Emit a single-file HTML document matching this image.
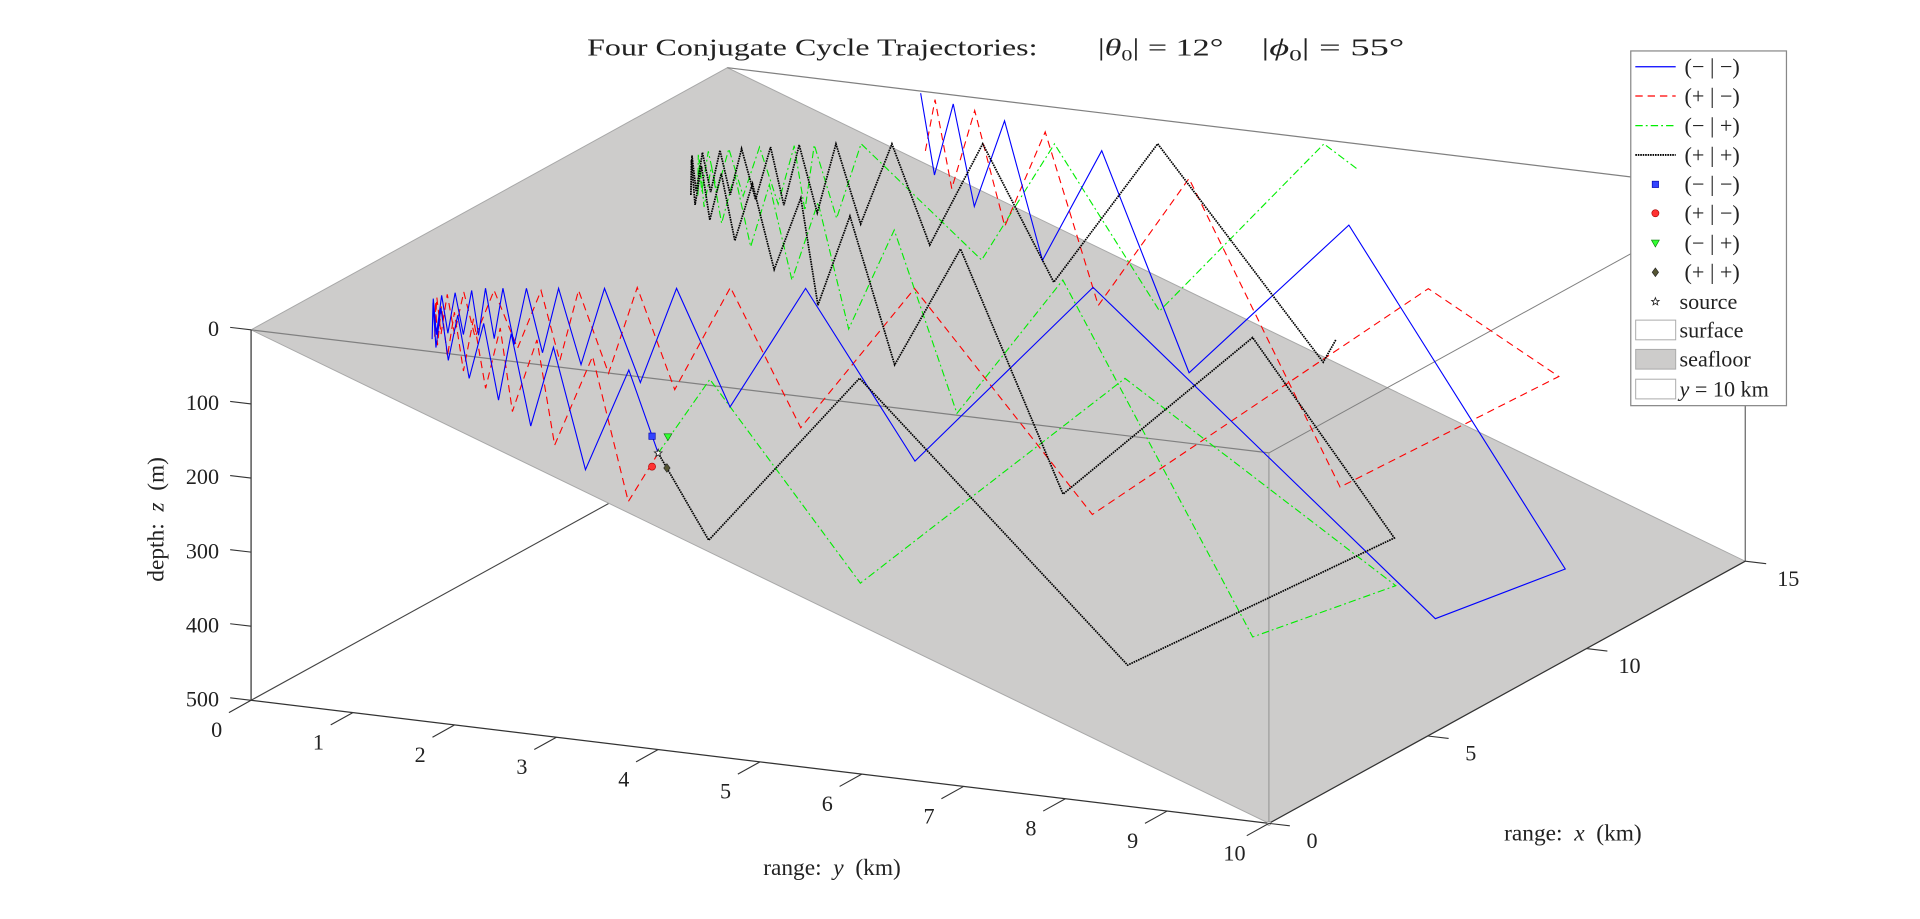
<!DOCTYPE html>
<html><head><meta charset="utf-8">
<style>
html,body{margin:0;padding:0;background:#fff;}
svg{display:block;}
text{font-family:"Liberation Serif","DejaVu Serif",serif;fill:#222;}
</style></head>
<body>
<svg id="chart" width="1920" height="919" viewBox="0 0 1560 746.7" preserveAspectRatio="none" xmlns="http://www.w3.org/2000/svg">
  <g id="back"></g>
  <polygon id="seafloor" fill="#cdcccb" stroke="#a8a8a8" stroke-width="0.8"></polygon>
  <g id="frame"></g>
  <g id="rays"></g>
  <g id="marks"></g>
  <g id="ticks"></g>
  <text x="477" y="45" font-size="20" textLength="366" lengthAdjust="spacingAndGlyphs">Four Conjugate Cycle Trajectories:</text>
  <text x="892" y="45" font-size="20" textLength="102" lengthAdjust="spacingAndGlyphs">|<tspan font-style="italic">θ</tspan><tspan font-size="13" dy="4">0</tspan><tspan dy="-4">| = 12°</tspan></text>
  <text x="1025" y="45" font-size="20" textLength="116" lengthAdjust="spacingAndGlyphs">|<tspan font-style="italic">ϕ</tspan><tspan font-size="13" dy="4">0</tspan><tspan dy="-4">| = 55°</tspan></text>
  <text transform="translate(133,422) rotate(-90)" text-anchor="middle" font-size="19" xml:space="preserve">depth:  <tspan font-style="italic">z</tspan>  (m)</text>
  <text x="676" y="711" text-anchor="middle" font-size="19" xml:space="preserve">range:  <tspan font-style="italic">y</tspan>  (km)</text>
  <text x="1278" y="683" text-anchor="middle" font-size="19" xml:space="preserve">range:  <tspan font-style="italic">x</tspan>  (km)</text>
  <g id="legend">
    <rect x="1325" y="41.4" width="126.5" height="288.2" fill="#fff" stroke="#888" stroke-width="1"></rect>
  </g>
</svg>
<script>
// ---- data (x km, y km, z m) ----
const zTicks=[0,100,200,300,400,500];
const yTicks=[0,1,2,3,4,5,6,7,8,9,10];
const xTicks=[0,5,10,15];
const source=[0,4,100];
const markerX=[0.03,0.03,0.05,0.05];
const markerY=[3.93,3.93,4.08,4.07];
const markerZ=[79,120,78,120];

const blueX=[0,0.26,0.69,0.90,1.21,1.30,1.51,1.62,1.74,1.86,1.98,2.10,2.20,2.30,2.40,2.50,2.60,2.70,2.80,2.90,3.00,3.10,3.19,3.28,3.33,3.38,3.45,3.51,3.60,3.69,3.82,3.95,4.15,4.36,4.73,5.09,5.81,6.77,8.67,12.12,11.14,12.52,13.23,13.80,14.08,14.41,14.58,14.79,14.90];
const blueY=[4,3.63,3.07,2.69,2.37,2.15,1.96,1.78,1.60,1.45,1.32,1.21,1.13,1.07,1.03,1.01,1.01,1.03,1.06,1.10,1.15,1.20,1.24,1.28,1.35,1.42,1.51,1.61,1.74,1.87,2.05,2.24,2.53,2.82,3.23,3.86,4.71,6.16,8.93,9.13,7.31,5.31,4.23,3.47,3.01,2.61,2.35,2.10,1.93];
const blueZ=[100,0,154,0,119,0,98,0,80,0,66,0,57,0,52,0,51,0,53,0,58,0,62,0,68,0,76,0,87,0,103,0,127,0,162,0,236,0,446,457,0,265,0,174,0,130,0,105,0];

const redX=[0,0.34,0.69,0.97,1.15,1.37,1.50,1.68,1.78,1.88,1.98,2.08,2.18,2.28,2.38,2.48,2.58,2.68,2.78,2.88,2.98,3.08,3.23,3.36,3.49,3.60,3.71,3.95,4.18,4.43,4.71,5.13,5.70,6.78,8.61,17.88,11.28,12.42,13.25,13.79,14.28,14.39,14.63,14.68,14.80];
const redY=[4,3.60,3.14,2.68,2.45,2.14,1.98,1.78,1.63,1.50,1.38,1.28,1.19,1.12,1.07,1.03,1.02,1.03,1.06,1.10,1.16,1.24,1.38,1.57,1.76,1.91,2.06,2.28,2.49,2.78,3.24,3.80,4.74,6.15,8.88,7.27,7.18,5.34,4.19,3.50,2.95,2.62,2.32,2.14,2.00];
const redZ=[100,180,0,134,0,107,0,89,0,75,0,64,0,56,0,52,0,52,0,55,0,62,0,78,0,95,0,114,0,139,0,190,0,307,0,364,359,0,210,0,148,0,116,0,80];

const greenX=[0,0.28,1.27,2.68,9.09,5.42,6.94,7.87,8.33,8.85,9.20,9.50,9.75,9.90,10.04,10.17,10.30,10.42,10.53,10.64,10.75,10.86,10.97,11.08,11.20,11.33,11.46,11.60,11.72,11.80,11.87,12.03,12.19,12.91,13.28,13.96,14.81,15.0];
const greenY=[4,4.42,5.59,7.75,8.41,8.15,5.81,4.48,3.72,3.11,2.70,2.35,2.05,1.82,1.62,1.45,1.31,1.20,1.12,1.07,1.04,1.04,1.07,1.12,1.20,1.30,1.42,1.56,1.68,1.76,1.83,2.00,2.19,3.15,3.75,4.57,5.92,6.20];
const greenZ=[100,0,279,0,420,407,0,224,0,156,0,118,0,91,0,72,0,60,0,53,0,52,0,56,0,65,0,78,0,88,0,100,0,158,0,228,0,35];

const blackX=[0,0.34,1.18,2.73,10.52,5.32,6.98,7.82,8.44,8.73,9.10,9.30,9.55,9.70,9.85,10.00,10.12,10.24,10.36,10.47,10.58,10.68,10.78,10.88,10.98,11.08,11.18,11.28,11.40,11.52,11.65,11.78,11.90,12.04,12.21,12.36,12.59,12.88,13.29,13.87,14.82,15.10];
const blackY=[4,4.39,5.61,7.76,7.95,8.18,5.80,4.53,3.69,3.16,2.73,2.50,2.16,1.90,1.68,1.50,1.35,1.23,1.13,1.06,1.02,1.00,1.01,1.04,1.09,1.15,1.22,1.30,1.40,1.51,1.60,1.71,1.85,1.99,2.18,2.44,2.74,3.17,3.74,4.58,5.91,5.95];
const blackZ=[100,219,0,388,397,0,290,0,185,0,136,0,108,0,84,0,68,0,57,0,51,0,51,0,55,0,61,0,70,0,80,0,92,0,109,0,137,0,187,0,295,270];

// ---- axis functions (projection) ----
const O=[204,268];
const EX=[387/15,-213/15];
const EY=[82.7,10.0];
const EZ=301/500;
function px(x,y,z){return O[0]+EX[0]*x+EY[0]*y;}
function py(x,y,z){return O[1]+EX[1]*x+EY[1]*y+EZ*z;}
const NS='http://www.w3.org/2000/svg';
function mk(tag,attrs,parent){const e=document.createElementNS(NS,tag);for(const k in attrs)e.setAttribute(k,attrs[k]);parent.appendChild(e);return e;}
function P(x,y,z){return px(x,y,z).toFixed(2)+','+py(x,y,z).toFixed(2);}

const back=document.getElementById('back');
let e=mk('line',{x1:px(0,0,500),y1:py(0,0,500),x2:px(15,0,500),y2:py(15,0,500),stroke:'#444','stroke-width':0.9},back);



document.getElementById('seafloor').setAttribute('points',[P(0,0,0),P(15,0,0),P(15,10,500),P(0,10,500)].join(' '));

const frame=document.getElementById('frame');
function seg(a,b,col,w,name){const l=mk('line',{x1:px(...a),y1:py(...a),x2:px(...b),y2:py(...b),stroke:col,'stroke-width':w},frame);

}
seg([0,0,0],[0,10,0],'#808080',1,'surface-front-edge');
seg([15,0,0],[15,10,0],'#808080',1,'surface-back-edge');
seg([0,10,0],[15,10,0],'#808080',0.8,'plane-y10-top-edge');
seg([0,10,0],[0,10,500],'#909090',0.8,'plane-y10-front-edge');
seg([15,10,0],[15,10,500],'#555',0.9,'right-vertical-edge');
seg([0,0,0],[0,0,500],'#333',1,'z-axis-line');
seg([0,0,500],[0,10,500],'#333',1,'y-axis-line');
seg([0,10,500],[15,10,500],'#333',1,'x-axis-line');

const rays=document.getElementById('rays');
function ray(X,Y,Z,col,dash,w,name){
  const pts=X.map((v,i)=>P(X[i],Y[i],Z[i])).join(' ');
  const pl=mk('polyline',{points:pts,fill:'none',stroke:col,'stroke-width':w,'stroke-linejoin':'miter'},rays);
  if(dash)pl.setAttribute('stroke-dasharray',dash);
  
  
}
ray(greenX,greenY,greenZ,'#00ee00','6 2.5 1.5 2.5',0.9,'ray-minus-plus');
ray(redX,redY,redZ,'#ff0000','6 4',0.9,'ray-plus-minus');
ray(blueX,blueY,blueZ,'#0000ff',null,0.9,'ray-minus-minus');
ray(blackX,blackY,blackZ,'#000','1.3 0.7',1.4,'ray-plus-plus');

const marks=document.getElementById('marks');
function marker(kind,x,y,parent,name){
  let m;
  if(kind===0)m=mk('rect',{x:x-2.6,y:y-2.6,width:5.2,height:5.2,fill:'#3344ff',stroke:'#0000aa','stroke-width':0.5},parent);
  else if(kind===1)m=mk('circle',{cx:x,cy:y,r:2.9,fill:'#ff3333',stroke:'#aa0000','stroke-width':0.5},parent);
  else if(kind===2)m=mk('polygon',{points:`${x-3.2},${y-2.6} ${x+3.2},${y-2.6} ${x},${y+3}`,fill:'#33ff33',stroke:'#007700','stroke-width':0.5},parent);
  else if(kind===3)m=mk('polygon',{points:`${x},${y-3.5} ${x+2.6},${y} ${x},${y+3.5} ${x-2.6},${y}`,fill:'#555533',stroke:'#222','stroke-width':0.5},parent);
  else {const r1=3.2,r2=1.4;let s=[];for(let k=0;k<10;k++){const r=k%2?r2:r1,a=-Math.PI/2+k*Math.PI/5;s.push((x+r*Math.cos(a)).toFixed(2)+','+(y+r*Math.sin(a)).toFixed(2));}
    m=mk('polygon',{points:s.join(' '),fill:'#fff',stroke:'#222','stroke-width':0.7},parent);}
  
  
}
const mnames=['marker-minus-minus','marker-plus-minus','marker-minus-plus','marker-plus-plus'];
for(let i=0;i<4;i++)marker(i,px(markerX[i],markerY[i],markerZ[i]),py(markerX[i],markerY[i],markerZ[i]),marks,mnames[i]);
marker(4,px(...source),py(...source),marks,'source-marker');
let c=mk('circle',{cx:px(0,10,500),cy:py(0,10,500),r:1.6,fill:'#ddd',stroke:'#888','stroke-width':0.5},marks);



const tk=document.getElementById('ticks');
function tick(a,dx,dy,lab,lx,ly,anchor,name){
  const X=px(...a),Y=py(...a);
  const l=mk('line',{x1:X,y1:Y,x2:X+dx,y2:Y+dy,stroke:'#333','stroke-width':0.9},tk);
  
  
  const t=mk('text',{x:X+lx,y:Y+ly,'font-size':18,'text-anchor':anchor},tk);
  t.textContent=lab;
  
  
}
zTicks.forEach(v=>tick([0,0,v],-17,-2,String(v),-26,5,'end','z-tick-'+v));
yTicks.forEach(v=>tick([0,v,500],-18,10,String(v),-28,30,'middle','y-tick-'+v));
xTicks.forEach(v=>tick([v,10,500],17,2,String(v),35,20,'middle','x-tick-'+v));

const lg=document.getElementById('legend');
const rowY=[54.2,78,102.1,125.9,149.8,173.3,197.7,221.2,245.1,268.1,291.9,316.1];
const labels=['(− | −)','(+ | −)','(− | +)','(+ | +)','(− | −)','(+ | −)','(− | +)','(+ | +)','source','surface','seafloor','y = 10 km'];
const lineCols=['#0000ff','#ff0000','#00ee00','#000'];
const lineDash=[null,'6 4','6 2.5 1.5 2.5','1.3 0.7'];
for(let i=0;i<12;i++){
  const y=rowY[i];
  if(i<4){const l=mk('line',{x1:1328.7,y1:y,x2:1361.5,y2:y,stroke:lineCols[i],'stroke-width':i===3?1.5:1},lg);
    if(lineDash[i])l.setAttribute('stroke-dasharray',lineDash[i]);
    
    }
  else if(i<9){marker(i-4,1345,y,lg,'legend-marker-'+i);}
  else {const r=mk('rect',{x:1329,y:y-8,width:32.5,height:16,fill:i===10?'#cdcccb':'#fff',stroke:'#aaa','stroke-width':0.8},lg);
    
    }
  const t=mk('text',{x:i<8?1368.7:1364.6,y:y+6,'font-size':18},lg);
  if(i===11){t.innerHTML='<tspan font-style="italic">y</tspan> = 10 km';}
  else t.textContent=labels[i];
  
  
}
</script>
</body></html>
